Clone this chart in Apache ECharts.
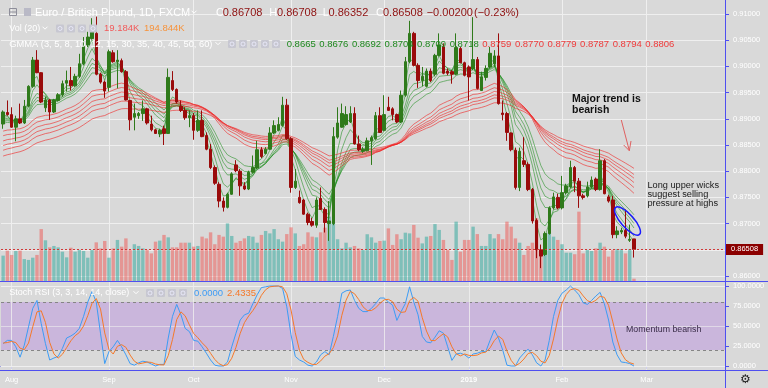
<!DOCTYPE html>
<html><head><meta charset="utf-8">
<script src="https://cdn.jsdelivr.net/npm/echarts@6/dist/echarts.min.js"></script>
<style>html,body{margin:0;padding:0;background:#d9d9d9}#c{width:768px;height:388px}</style>
</head><body><div id="c"></div>
<script>
// ---------------- data ----------------
const opens = [.8890,.8912,.8908,.8884,.8900,.8892,.8924,.8962,.9012,.8988,
.8921,.8936,.8913,.8935,.8946,.8968,.8973,.8963,.8981,.9005,
.9041,.9053,.9063,.8985,.8970,.8960,.9026,.9009,.9011,.8990,
.8935,.8903,.8906,.8910,.8919,.8890,.8879,.8871,.8881,.8872,
.8973,.8956,.8924,.8916,.8902,.8906,.8878,.8897,.8868,.8842,
.8807,.8775,.8743,.8731,.8756,.8812,.8800,.8772,.8766,.8798,
.8806,.8841,.8834,.8842,.8873,.8878,.8887,.8926,.8862,.8769,
.8750,.8745,.8718,.8704,.8697,.8748,.8727,.8700,.8700,.8865,
.8884,.8889,.8894,.8910,.8852,.8838,.8839,.8858,.8862,.8906,
.8878,.8922,.8919,.8908,.8894,.8945,.9009,.9063,.9002,.8973,
.8962,.8991,.8985,.9021,.9037,.8991,.8990,.8985,.9034,.9007,
.8999,.8996,.9013,.8954,.8979,.8999,.9005,.9020,.8911,.8910,
.8873,.8840,.8769,.8820,.8813,.8765,.8706,.8650,.8641,.8681,
.8730,.8750,.8730,.8759,.8770,.8807,.8781,.8753,.8753,.8770,
.8785,.8765,.8820,.8751,.8745,.8679,.8684,.8687,.8668,.86708];
const highs = [.8916,.8935,.8922,.8906,.8929,.8936,.8964,.9018,.9031,.8989,
.8942,.8938,.8938,.8949,.8973,.8992,.8999,.8986,.9024,.9056,
.9066,.9092,.9095,.8988,.8973,.9032,.9031,.9031,.9015,.8993,
.8936,.8929,.8913,.8935,.8921,.8906,.8881,.8881,.8887,.8996,
.8991,.8958,.8935,.8922,.8916,.8911,.8916,.8916,.8874,.8852,
.8811,.8779,.8750,.8759,.8798,.8821,.8804,.8779,.8801,.8830,
.8858,.8846,.8846,.8884,.8897,.8903,.8942,.8938,.8865,.8804,
.8763,.8747,.8721,.8711,.8750,.8769,.8731,.8743,.8884,.8922,
.8929,.8924,.8924,.8922,.8868,.8846,.8864,.8868,.8913,.8922,
.8945,.8942,.8922,.8910,.8954,.9018,.9087,.9066,.9006,.8999,
.8996,.8996,.9024,.9063,.9044,.8996,.8993,.9063,.9037,.9009,
.9002,.9094,.9018,.8990,.9002,.9037,.9031,.9063,.8935,.8913,
.8874,.8845,.8845,.8865,.8817,.8768,.8710,.8660,.8685,.8733,
.8759,.8757,.8791,.8776,.8820,.8810,.8787,.8757,.8780,.8790,
.8788,.8842,.8823,.8755,.8753,.8695,.8692,.8727,.8698,.86708];
const lows = [.8881,.8906,.8883,.8857,.8890,.8890,.8922,.8959,.8987,.8930,
.8913,.8898,.8911,.8933,.8942,.8952,.8954,.8961,.8978,.9002,
.9037,.9051,.8983,.8967,.8940,.8952,.9007,.8958,.8988,.8935,
.8878,.8878,.8900,.8896,.8889,.8876,.8871,.8865,.8850,.8871,
.8953,.8929,.8913,.8898,.8884,.8860,.8875,.8865,.8840,.8804,
.8774,.8731,.8723,.8729,.8755,.8798,.8753,.8764,.8764,.8796,
.8804,.8825,.8832,.8841,.8871,.8876,.8885,.8860,.8759,.8766,
.8738,.8717,.8697,.8694,.8692,.8726,.8683,.8667,.8697,.8862,
.8883,.8887,.8892,.8851,.8838,.8835,.8838,.8812,.8860,.8873,
.8876,.8915,.8897,.8892,.8892,.8942,.9006,.9000,.8959,.8962,
.8960,.8970,.8981,.9019,.8985,.8983,.8967,.8983,.9006,.8981,
.8935,.8993,.8956,.8953,.8973,.8996,.8999,.8927,.8897,.8858,
.8838,.8765,.8762,.8808,.8762,.8700,.8634,.8615,.8638,.8679,
.8727,.8727,.8727,.8756,.8768,.8760,.8730,.8746,.8750,.8767,
.8762,.8763,.8756,.8740,.8672,.8672,.8680,.8672,.8665,.86352];
const closes = [.8913,.8908,.8884,.8900,.8892,.8924,.8962,.9012,.8988,.8932,
.8936,.8913,.8936,.8946,.8967,.8973,.8963,.8981,.9005,.9038,
.9056,.9066,.8985,.8970,.8953,.9028,.9009,.9012,.8990,.8936,
.8898,.8910,.8910,.8919,.8892,.8879,.8872,.8878,.8872,.8979,
.8956,.8932,.8916,.8902,.8906,.8878,.8897,.8866,.8842,.8807,
.8777,.8743,.8731,.8756,.8795,.8801,.8772,.8766,.8798,.8807,
.8841,.8828,.8842,.8873,.8887,.8889,.8926,.8862,.8769,.8781,
.8740,.8718,.8702,.8697,.8745,.8727,.8702,.8705,.8866,.8892,
.8910,.8908,.8910,.8852,.8841,.8842,.8858,.8864,.8906,.8874,
.8908,.8916,.8908,.8894,.8945,.9009,.9063,.9002,.8973,.8981,
.8991,.8973,.9021,.9041,.8987,.8987,.8985,.9036,.9007,.8983,
.8980,.9013,.8958,.8980,.8996,.9025,.9020,.8929,.8908,.8874,
.8841,.8769,.8838,.8813,.8765,.8705,.8650,.8638,.8681,.8730,
.8751,.8730,.8759,.8772,.8807,.8781,.8753,.8750,.8770,.8783,
.8765,.8820,.8757,.8743,.8679,.8686,.8687,.8676,.8670,.86508];
const volumesK = [153,182,157,180,182,133,128,141,157,307,
242,201,209,201,176,143,199,176,186,180,
141,186,230,195,238,141,195,244,205,253,
186,219,209,195,186,166,234,240,273,259,
201,201,228,228,228,205,209,263,253,288,
219,273,263,340,267,228,238,253,267,263,
228,273,296,282,307,248,234,278,317,282,
209,219,288,263,259,288,315,379,350,248,
195,228,201,209,195,186,277,259,228,238,
240,311,215,277,248,286,282,331,257,224,
263,267,336,302,244,186,128,350,176,244,
244,321,278,209,209,278,253,278,248,350,
321,253,228,157,209,228,369,151,282,286,
263,244,219,170,170,161,408,166,186,180,
195,228,205,147,186,191,191,166,190,19.184];
const stochK = [28,32,32,24,11,26,49,72,82,53,
28,7.5,10,12,22,35,37.5,41,47,62,
80,93,80,41,3,18,24,32,24,14,
3,1,4,6,5,2.5,0,2,2,35,
62,77,64,47,43,32,31,24,16,7.5,
1,0,0,5,24,41,57.5,64,66,78,
89,98,99,100,100,100,97,74,39,12,
7.5,5,1,0,5,14,18,14,37,62,
91,94,95,82,72,68,68,72,78,85,
85,80,76,57,68,78,99,80,64,37,
30,29,36,44,41,24,7,15,16,14,
10,15,16,18,18,32,45,35,20,1,
0,0,10,16,21,14,4,0,7.5,32,
62,82,91,95,100,95,89,79,77,82,
87.5,92,78,57.5,30,14,5,4.3,3,0];
const stochKSeed = [30, 28];
const gmmaShortPeriods = [3,5,8,10,12,15];
const gmmaLongPeriods = [30,35,40,45,50,60];
const gmmaShortSeeds = [.8898,.8897,.8895,.8893,.8891,.8888];
const gmmaLongSeeds = [.8874,.8865,.8855,.8846,.8837,.8826];
const monthStartIdx = [2,25,45,68,90,110,132,152];
const monthNames = ['Aug','Sep','Oct','Nov','Dec','2019','Feb','Mar'];
const priceTicks = [0.86,0.865,0.87,0.875,0.88,0.885,0.89,0.895,0.90,0.905,0.91];
const stochTicks = [0,25,50,75,100];
const lastPrice = 0.86508;
const totalSlots = 171;
const priceAxisMin = 0.858855, priceAxisMax = 0.912672;
const volAxisMax = 1635.6;
const stochAxisMin = -6.25, stochAxisMax = 105;
const shortVals = ['0.8665','0.8676','0.8692','0.8704','0.8709','0.8718'];
const longVals = ['0.8759','0.8770','0.8779','0.8787','0.8794','0.8806'];

// ---------------- derived ----------------
const cats = Array.from({length: totalSlots}, (_, i) => String(i));
const candleData = opens.map((o, i) => [o, closes[i], lows[i], highs[i]]);
function ema(period, seed) {
  const a = 2 / (period + 1); let prev = seed;
  return closes.map(c => +(prev = prev + a * (c - prev)).toFixed(5));
}
const kAll = stochKSeed.concat(stochK);
const stochD = stochK.map((_, i) => +((kAll[i] + kAll[i + 1] + kAll[i + 2]) / 3).toFixed(3));
const isMonth = (i) => monthStartIdx.indexOf(+i) >= 0;

const BLUE = '#4f4ff0';
const F = '"Liberation Sans", Arial, sans-serif';
const UP = '#2f7a1b', DN = '#9a0b0b';
const VOL_UP = 'rgba(38,166,154,0.5)', VOL_DN = 'rgba(239,83,80,0.5)';
const GRIDC = '#efefef';

const series = [];
series.push({
  type: 'bar', xAxisIndex: 1, yAxisIndex: 1, z: 2, silent: true, barWidth: 3.4,
  data: volumesK.map((v, i) => ({ value: v, itemStyle: { color: closes[i] >= opens[i] ? VOL_UP : VOL_DN } })),
  markLine: { silent: true, z: 1, precision: 5, symbol: ['none', 'none'], label: { show: false },
    lineStyle: { color: GRIDC, width: 1, type: 'solid' },
    data: monthStartIdx.map(i => ({ xAxis: String(i) })) }
});
gmmaShortPeriods.forEach((p, k) => {
  const s = { type: 'line', xAxisIndex: 0, yAxisIndex: 0, z: 3, silent: true, symbol: 'none',
    data: ema(p, gmmaShortSeeds[k]), lineStyle: { width: 1, color: 'rgba(25,140,25,0.55)' } };
  if (k === 0) s.markLine = { silent: true, z: 1, precision: 5, symbol: ['none', 'none'], label: { show: false },
    lineStyle: { color: GRIDC, width: 1, type: 'solid' }, data: priceTicks.map(v => ({ yAxis: v })) };
  series.push(s);
});
gmmaLongPeriods.forEach((p, k) => {
  series.push({ type: 'line', xAxisIndex: 0, yAxisIndex: 0, z: 3, silent: true, symbol: 'none',
    data: ema(p, gmmaLongSeeds[k]), lineStyle: { width: 1, color: 'rgba(240,35,35,0.6)' } });
});
series.push({
  type: 'candlestick', xAxisIndex: 0, yAxisIndex: 0, z: 4, silent: true, barWidth: 3,
  data: candleData,
  itemStyle: { color: UP, color0: DN, borderColor: UP, borderColor0: DN, borderWidth: 1 },
  markLine: { silent: true, precision: 5, symbol: ['none', 'none'],
    data: [{ yAxis: lastPrice }],
    lineStyle: { color: '#d03a3a', type: [2, 2], width: 1 },
    label: { show: true, position: 'end', distance: 1, formatter: lastPrice.toFixed(5),
      color: '#fff', backgroundColor: '#8b0000', padding: [2, 5, 1, 5], fontSize: 7.5, fontFamily: F } }
});
series.push({
  type: 'line', xAxisIndex: 2, yAxisIndex: 2, z: 3, silent: true, symbol: 'none',
  data: stochK, lineStyle: { width: 1, color: '#3d9cf5' },
  markArea: { silent: true, z: 0, itemStyle: { color: 'rgba(150,60,230,0.22)' },
    data: [[{ yAxis: 20 }, { yAxis: 80 }]] },
  markLine: { silent: true, z: 1, precision: 5, symbol: ['none', 'none'], label: { show: false },
    data: [
      { yAxis: 80, lineStyle: { color: '#858585', type: [3, 3], width: 1 } },
      { yAxis: 20, lineStyle: { color: '#858585', type: [3, 3], width: 1 } },
      { yAxis: 100, lineStyle: { color: GRIDC, type: 'solid', width: 1 } },
      { yAxis: 50, lineStyle: { color: GRIDC, type: 'solid', width: 1, opacity: 0.6 } },
      { yAxis: 0, lineStyle: { color: GRIDC, type: 'solid', width: 1 } }
    ] }
});
series.push({
  type: 'line', xAxisIndex: 2, yAxisIndex: 2, z: 3, silent: true, symbol: 'none',
  data: stochD, lineStyle: { width: 1, color: '#f5792a' },
  markLine: { silent: true, z: 1, precision: 5, symbol: ['none', 'none'], label: { show: false },
    lineStyle: { color: GRIDC, width: 1, type: 'solid', opacity: 0.8 },
    data: monthStartIdx.map(i => ({ xAxis: String(i) })) }
});

// ---------------- graphics (chrome & annotations) ----------------
const g = [];
function T(x, y, text, fill, size, weight, align) {
  g.push({ type: 'text', x, y, silent: true, z: 50,
    style: { text, fill, font: (weight || 'normal') + ' ' + size + 'px ' + F, align: align || 'left', verticalAlign: 'middle' } });
}
function chev(x, y) {
  g.push({ type: 'polyline', silent: true, z: 50, shape: { points: [[x - 2.5, y - 1.3], [x, y + 1.2], [x + 2.5, y - 1.3]] },
    style: { stroke: '#fff', lineWidth: 1, fill: null } });
}
function icons(x0, y, n) {
  for (let k = 0; k < n; k++) {
    const x = x0 + k * 11;
    g.push({ type: 'rect', silent: true, z: 50, shape: { x, y: y - 4, width: 8, height: 8, r: 1 }, style: { fill: '#c7c7d1' } });
    g.push({ type: 'circle', silent: true, z: 51, shape: { cx: x + 4, cy: y, r: 2 }, style: { stroke: '#eef', lineWidth: 0.8, fill: null } });
  }
}
g.push({ type: 'line', silent: true, z: 40, shape: { x1: 0, y1: 281.5, x2: 768, y2: 281.5 }, style: { stroke: BLUE, lineWidth: 1 } });
g.push({ type: 'line', silent: true, z: 40, shape: { x1: 0, y1: 370.5, x2: 768, y2: 370.5 }, style: { stroke: BLUE, lineWidth: 1 } });
g.push({ type: 'line', silent: true, z: 40, shape: { x1: 725.5, y1: 0, x2: 725.5, y2: 388 }, style: { stroke: BLUE, lineWidth: 1 } });
g.push({ type: 'rect', silent: true, z: 50, shape: { x: 9.5, y: 8.5, width: 7, height: 7 }, style: { stroke: '#8e8e9a', fill: null, lineWidth: 1 } });
g.push({ type: 'line', silent: true, z: 50, shape: { x1: 10, y1: 12, x2: 16, y2: 12 }, style: { stroke: '#8e8e9a', lineWidth: 1 } });
g.push({ type: 'rect', silent: true, z: 50, shape: { x: 24, y: 8, width: 7, height: 8 }, style: { fill: '#b9b9c6' } });
T(35, 12.5, 'Euro / British Pound, 1D, FXCM', '#ffffff', 11);
chev(194, 12);
const OHLCred = '#8e1010';
T(216, 12.5, 'O', '#fff', 11); T(222.7, 12.5, '0.86708', OHLCred, 11);
T(269.3, 12.5, 'H', '#fff', 11); T(277, 12.5, '0.86708', OHLCred, 11);
T(322.7, 12.5, 'L', '#fff', 11); T(328.5, 12.5, '0.86352', OHLCred, 11);
T(376, 12.5, 'C', '#fff', 11); T(383, 12.5, '0.86508', OHLCred, 11);
T(426.7, 12.5, '\u22120.00200', OHLCred, 11); T(474, 12.5, '(\u22120.23%)', OHLCred, 11);
T(9.3, 28.5, 'Vol (20)', '#fff', 9); chev(45, 28); icons(56, 28.5, 4);
T(104, 28.5, '19.184K', '#f25a5a', 9.5); T(144, 28.5, '194.844K', '#f7923a', 9.5);
T(9.3, 44, 'GMMA (3, 5, 8, 10, 12, 15, 30, 35, 40, 45, 50, 60)', '#fff', 9.3); chev(218, 43.5); icons(228, 44, 5);
shortVals.forEach((s, k) => T(286.7 + k * 32.6, 44, s, '#1f8a1f', 9.5));
longVals.forEach((s, k) => T(286.7 + (k + 6) * 32.6, 44, s, '#f03a3a', 9.5));
T(9.3, 293, 'Stoch RSI (3, 3, 14, 14, close)', '#fff', 9); chev(136, 292.5); icons(146, 293, 4);
T(194, 293, stochK[stochK.length - 1].toFixed(4), '#3d9cf5', 9.5);
T(227, 293, '2.4335', '#f5792a', 9.5);
T(572, 99.5, 'Major trend is', '#111', 10.5, 'bold');
T(572, 110.5, 'bearish', '#111', 10.5, 'bold');
g.push({ type: 'line', silent: true, z: 50, shape: { x1: 621.3, y1: 120, x2: 629.3, y2: 150.7 }, style: { stroke: '#e06060', lineWidth: 1 } });
g.push({ type: 'polyline', silent: true, z: 50, shape: { points: [[623.7, 145], [629.3, 150.7], [631, 141]] }, style: { stroke: '#e06060', lineWidth: 1, fill: null } });
T(647.5, 185, 'Long upper wicks', '#1a1a1a', 9.2);
T(647.5, 194, 'suggest selling', '#1a1a1a', 9.2);
T(647.5, 203, 'pressure at highs', '#1a1a1a', 9.2);
g.push({ type: 'ellipse', silent: true, z: 50, x: 627.5, y: 221, rotation: -0.84,
  shape: { cx: 0, cy: 0, rx: 18, ry: 6.5 }, style: { stroke: '#1a1aff', lineWidth: 1.5, fill: null } });
T(626, 330, 'Momentum bearish', '#3a2d48', 8.8);
g.push({ type: 'text', x: 745.5, y: 380, silent: true, z: 50,
  style: { text: '\u2699', fill: '#222', font: '12px "DejaVu Sans"', align: 'center', verticalAlign: 'middle' } });

// ---------------- option ----------------
const xBase = (gi) => ({
  type: 'category', gridIndex: gi, data: cats, boundaryGap: true,
  axisLine: { show: false }, axisTick: { show: false }, axisLabel: { show: false }, splitLine: { show: false }
});
const xStoch = {
  type: 'category', gridIndex: 2, data: cats, boundaryGap: true,
  axisLine: { show: true, lineStyle: { color: BLUE } },
  axisTick: { show: true, interval: (i) => isMonth(i), alignWithLabel: true, length: 3, lineStyle: { color: BLUE } },
  axisLabel: { show: true, interval: (i) => isMonth(i), margin: 5, color: '#fff', fontSize: 7.5, fontFamily: F,
    formatter: (v) => { const k = monthStartIdx.indexOf(+v); const n = monthNames[k] || ''; return n === '2019' ? '{b|' + n + '}' : n; },
    rich: { b: { fontWeight: 'bold', fontSize: 7.5, color: '#fff', fontFamily: F } } },
  splitLine: { show: false }
};
const yRight = (gi, min, max, ticks, dec) => ({
  type: 'value', gridIndex: gi, position: 'right', min, max,
  axisLine: { show: true, lineStyle: { color: BLUE } },
  axisTick: { show: true, customValues: ticks, length: 4, lineStyle: { color: BLUE } },
  axisLabel: { show: true, customValues: ticks, formatter: (v) => (+v).toFixed(dec), color: '#fff', fontSize: 7.5, margin: 8, fontFamily: F },
  splitLine: { show: false }
});
const option = {
  animation: false,
  backgroundColor: '#d9d9d9',
  grid: [
    { left: 1, right: 43, top: 0, height: 282 },
    { left: 1, right: 43, top: 0, height: 282 },
    { left: 1, right: 43, top: 282, height: 89 }
  ],
  xAxis: [xBase(0), xBase(1), xStoch],
  yAxis: [
    yRight(0, priceAxisMin, priceAxisMax, priceTicks, 5),
    { type: 'value', gridIndex: 1, min: 0, max: volAxisMax, show: false, splitLine: { show: false } },
    yRight(2, stochAxisMin, stochAxisMax, stochTicks, 4)
  ],
  series,
  graphic: { elements: g }
};
const chart = echarts.init(document.getElementById('c'));
chart.setOption(option);
</script></body></html>
